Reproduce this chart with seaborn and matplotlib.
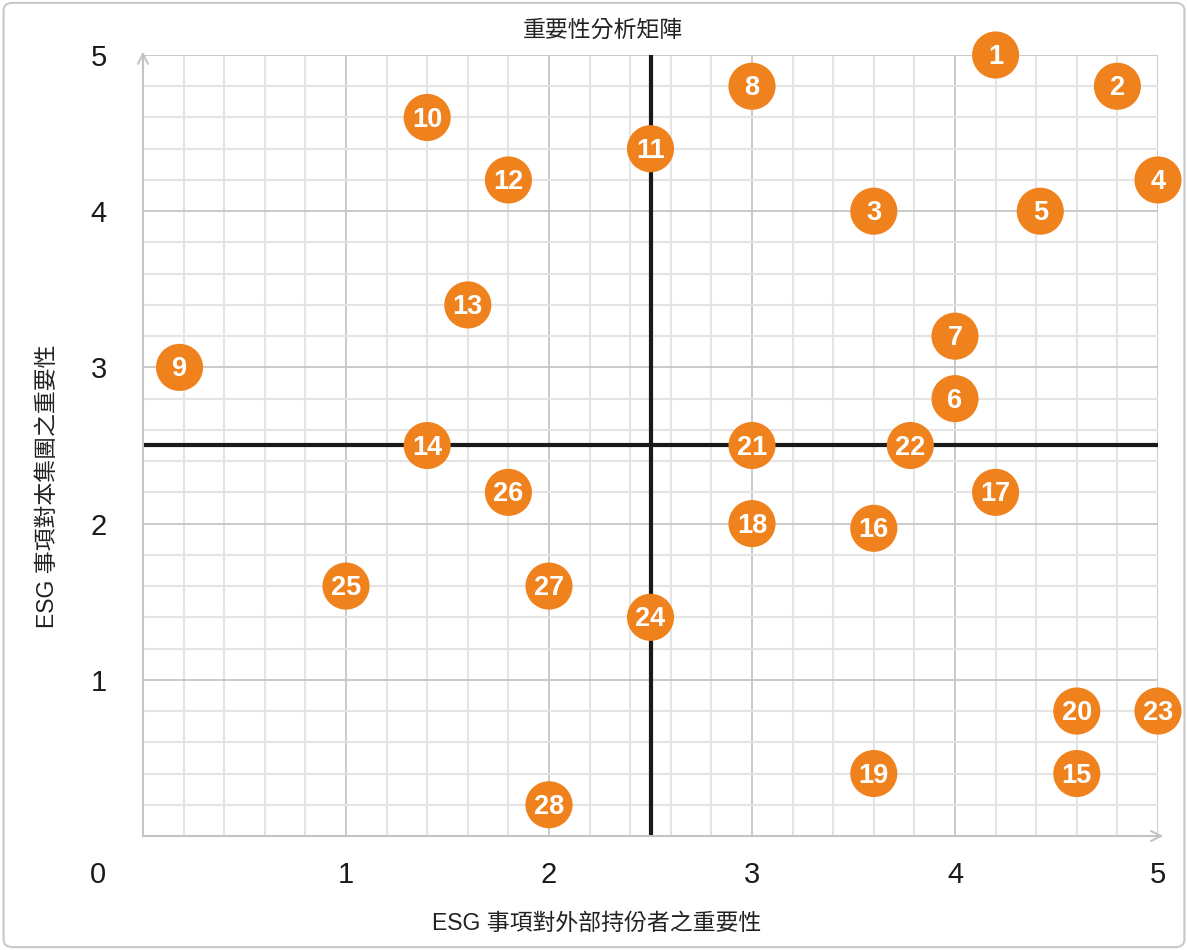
import matplotlib
matplotlib.use("Agg")
import matplotlib.pyplot as plt
from matplotlib.patches import FancyBboxPatch
import seaborn as sns
import pandas as pd
import numpy as np

# Issue numbers and their positions (external importance, group importance)
issue_ids = list(range(1, 29))
external_imp = [4.2, 4.8, 3.6, 5.0, 4.42, 4.0, 4.0, 3.0, 0.18, 1.4, 2.5, 1.8, 1.6, 1.4,
                4.6, 3.6, 4.2, 3.0, 3.6, 4.6, 3.0, 3.78, 5.0, 2.5, 1.0, 1.8, 2.0, 2.0]
group_imp = [5.0, 4.8, 4.0, 4.2, 4.0, 2.8, 3.2, 4.8, 3.0, 4.6, 4.4, 4.2, 3.4, 2.5,
             0.4, 1.97, 2.2, 2.0, 0.4, 0.8, 2.5, 2.5, 0.8, 1.4, 1.6, 2.2, 1.6, 0.2]
tick_vals = [0, 1, 2, 3, 4, 5]
tick_labels = ["", "1", "2", "3", "4", "5"]

title = "重要性分析矩陣"
xlabel = "ESG 事項對外部持份者之重要性"
ylabel = "ESG 事項對本集團之重要性"

df = pd.DataFrame({"id": issue_ids, "x": external_imp, "y": group_imp})

sns.set_style("white")
plt.rcParams["font.family"] = ["Liberation Sans", "Noto Sans CJK TC", "DejaVu Sans"]

fig = plt.figure(figsize=(11.88, 9.5), dpi=100)
ax = fig.add_axes([143 / 1188, 1 - 836 / 950, (1158 - 143) / 1188, (836 - 55) / 950])

# figure border
fig.patches.append(FancyBboxPatch((0.003, 0.003), 0.994, 0.994,
                                  boxstyle="round,pad=0,rounding_size=0.008",
                                  transform=fig.transFigure, fill=False,
                                  edgecolor="#c8c8c8", linewidth=1.5))

ax.set_xlim(0, 5)
ax.set_ylim(0, 5)
ax.set_xticks(tick_vals)
ax.set_yticks(tick_vals)
ax.set_xticks(np.arange(0, 5.01, 0.2), minor=True)
ax.set_yticks(np.arange(0, 5.01, 0.2), minor=True)
ax.set_xticklabels(tick_labels, fontsize=21, color="#1a1a1a")
ax.set_yticklabels(tick_labels, fontsize=21, color="#1a1a1a")
ax.tick_params(which="major", length=7, width=1.2, color="#c4c4c4")
ax.tick_params(axis="y", which="major", pad=19)
ax.tick_params(axis="x", which="major", pad=11)
ax.tick_params(which="minor", length=0)
ax.grid(which="minor", color="#e4e4e4", linewidth=1.5)
ax.grid(which="major", color="#c6c6c6", linewidth=1.3)
ax.set_axisbelow(True)

for s in ["top", "right"]:
    ax.spines[s].set_visible(False)
for s in ["left", "bottom"]:
    ax.spines[s].set_color("#c4c4c4")
    ax.spines[s].set_linewidth(1.5)

# arrow heads on axes
ax.annotate("", xy=(0, 5.04), xytext=(0, 4.9), annotation_clip=False,
            arrowprops=dict(arrowstyle="->", color="#c4c4c4", lw=1.5, mutation_scale=18))
ax.annotate("", xy=(5.04, 0), xytext=(4.9, 0), annotation_clip=False,
            arrowprops=dict(arrowstyle="->", color="#c4c4c4", lw=1.5, mutation_scale=18))

# quadrant lines
ax.axvline(2.5, color="#1a1a1a", linewidth=3, zorder=2)
ax.axhline(2.5, color="#1a1a1a", linewidth=3, zorder=2)

sns.scatterplot(data=df, x="x", y="y", ax=ax, s=1150, color="#f0821e",
                edgecolor="none", linewidth=0, zorder=3, legend=False)
for c in ax.collections:
    c.set_clip_on(False)

for i, xv, yv in zip(issue_ids, external_imp, group_imp):
    ax.annotate(str(i), (xv, yv), xytext=(0, -1.5), textcoords="offset points",
                color="white", fontsize=19.5, fontweight="bold",
                ha="center", va="center", zorder=4, annotation_clip=False)

ax.set_xlabel("")
ax.set_ylabel("")
fig.text(98 / 1188, 1 - 875 / 950, "0", fontsize=21, color="#1a1a1a",
         ha="center", va="center")
fig.text(603 / 1188, 1 - 30 / 950, title, fontsize=16.5, color="#222222",
         ha="center", va="center")
fig.text(597 / 1188, 1 - 923 / 950, xlabel, fontsize=16.5, color="#222222",
         ha="center", va="center")
fig.text(47 / 1188, 1 - 486 / 950, ylabel, fontsize=16.5, color="#222222",
         ha="center", va="center", rotation=90)

fig.savefig("out.png", dpi=100)
